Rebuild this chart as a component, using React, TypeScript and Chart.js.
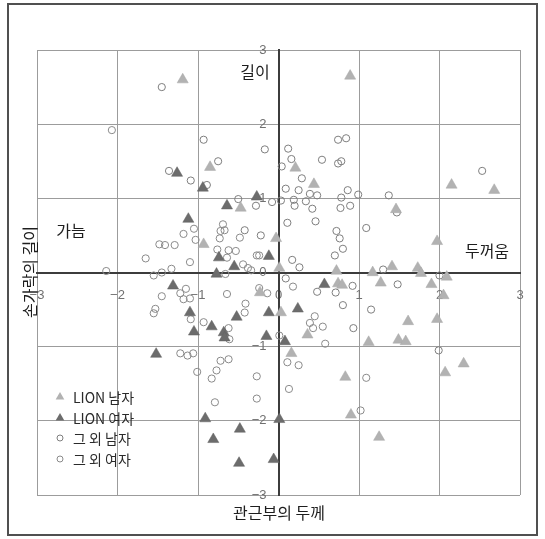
import React, { useEffect, useRef } from 'react';
import { Chart, registerables } from 'chart.js';

Chart.register(...registerables);

// ---- data (x: 관근부의 두께, y: 손가락의 길이) ----
const lionMale: [number, number][] = [
  [-1.19, 2.6], [0.89, 2.65], [-0.85, 1.42], [0.21, 1.41], [0.44, 1.19], [2.15, 1.18], [2.68, 1.11],
  [1.46, 0.85], [-0.47, 0.87], [-0.93, 0.38], [-0.03, 0.46], [1.97, 0.42], [0.01, 0.06], [0.72, 0.02],
  [1.17, 0.0], [1.41, 0.08], [1.73, 0.06], [1.77, -0.01], [2.09, -0.06], [1.27, -0.14], [1.9, -0.16],
  [0.74, -0.15], [0.79, -0.17], [2.05, -0.31], [0.03, -0.54], [1.61, -0.66], [1.97, -0.63], [0.36, -0.84],
  [1.12, -0.94], [1.49, -0.91], [1.58, -0.93], [0.16, -1.09], [0.83, -1.41], [2.3, -1.23], [2.07, -1.35],
  [0.9, -1.92], [1.25, -2.22], [-0.23, -0.27],
];

const lionFemale: [number, number][] = [
  [-1.26, 1.34], [-0.94, 1.14], [-0.27, 1.02], [-0.64, 0.9], [-1.12, 0.72], [-0.74, 0.2], [-0.55, 0.08],
  [-0.12, 0.22], [-0.77, -0.02], [-1.31, -0.18], [-1.1, -0.54], [-1.05, -0.8], [-0.83, -0.73], [-0.68, -0.81],
  [-0.67, -0.88], [-0.52, -0.6], [-0.12, -0.54], [0.24, -0.49], [-0.15, -0.86], [0.08, -0.93], [0.57, -0.16],
  [-1.52, -1.1], [-0.91, -1.97], [-0.48, -2.11], [-0.81, -2.25], [-0.49, -2.57], [-0.06, -2.52], [0.01, -1.98],
];

const otherMale: [number, number][] = [
  [-1.45, 2.5], [-0.93, 1.79], [-0.17, 1.66], [0.12, 1.67], [0.16, 1.53], [0.74, 1.79], [0.84, 1.81],
  [0.54, 1.52], [0.74, 1.47], [0.78, 1.5], [-0.75, 1.5], [-1.36, 1.37], [-1.09, 1.24], [-0.89, 1.18],
  [0.04, 1.43], [0.29, 1.27], [0.09, 1.13], [0.25, 1.11], [0.39, 1.06], [0.48, 1.04], [0.86, 1.11],
  [0.99, 1.05], [1.37, 1.04], [0.78, 1.01], [0.19, 0.98], [0.03, 0.97], [-0.08, 0.95], [0.34, 0.96],
  [0.2, 0.9], [0.42, 0.86], [0.77, 0.87], [0.89, 0.9], [1.47, 0.81], [-0.5, 0.99], [-0.28, 0.9],
  [2.53, 1.37], [0.11, 0.67], [0.46, 0.69], [0.72, 0.56], [0.76, 0.46], [0.8, 0.32], [0.7, 0.23],
  [1.09, 0.6], [0.17, 0.17], [0.26, 0.07], [1.3, 0.04], [2.0, -0.04], [0.09, -0.08], [0.48, -0.26],
  [0.71, -0.27], [0.92, -0.18], [1.48, -0.16], [0.8, -0.44], [1.15, -0.5], [0.93, -0.75], [1.99, -1.05],
  [-0.42, 0.57], [-0.22, 0.5],
];

const otherFemale: [number, number][] = [
  [-2.07, 1.92], [0.18, -0.19], [0.45, -0.59], [0.39, -0.68], [0.43, -0.75], [0.55, -0.73], [0.58, -0.96],
  [0.01, -0.85], [0.11, -1.21], [0.25, -1.25], [1.09, -1.42], [0.13, -1.57], [1.02, -1.86], [-0.27, -1.4],
  [-0.27, -1.7], [-0.79, -1.75], [-0.83, -1.43], [-0.77, -1.32], [-0.72, -1.19], [-0.62, -1.17], [-1.01, -1.34],
  [-1.22, -1.09], [-1.13, -1.12], [-1.06, -1.09], [-0.42, -0.54], [-0.41, -0.42], [-0.64, -0.29], [-0.24, -0.21],
  [-0.14, -0.28], [-1.15, -0.22], [-1.22, -0.28], [-1.18, -0.36], [-1.1, -0.35], [-1.45, -0.32], [-1.53, -0.49],
  [-1.55, -0.55], [-1.09, -0.63], [-0.93, -0.67], [-0.61, -0.9], [-0.62, -0.75], [-2.14, 0.02], [-1.55, -0.04],
  [-1.45, 0.0], [-1.33, 0.05], [-1.65, 0.19], [-1.1, 0.14], [-1.48, 0.38], [-1.41, 0.37], [-1.29, 0.37],
  [-1.18, 0.52], [-1.05, 0.59], [-1.03, 0.44], [-0.69, 0.65], [-0.72, 0.56], [-0.67, 0.57], [-0.73, 0.46],
  [-0.48, 0.47], [-0.76, 0.31], [-0.62, 0.3], [-0.53, 0.29], [-0.27, 0.23], [-0.24, 0.23], [-0.44, 0.11],
  [-0.38, 0.06], [-0.64, 0.2], [-0.66, -0.02], [-0.34, 0.03],
];

const seriesLabels = ['LION 남자', 'LION 여자', '그 외 남자', '그 외 여자'];
const axisMin = -3;
const axisMax = 3;
const xTitle = '관근부의 두께';
const yTitle = '손가락의 길이';
const cornerLabels = { top: '길이', left: '가늠', right: '두꺼움' };

const KFONT = "'Noto Sans CJK KR', 'Noto Sans', sans-serif";
const TICKFONT = "'Liberation Sans Narrow', 'Liberation Sans', sans-serif";

const toPts = (arr: [number, number][]) => arr.map(([x, y]) => ({ x, y }));

const overlayPlugin = {
  id: 'overlayTexts',
  afterDraw(chart: any) {
    const ctx = chart.ctx as CanvasRenderingContext2D;
    ctx.save();
    ctx.fillStyle = '#1e1e1e';
    ctx.font = `16px ${KFONT}`;
    ctx.textAlign = 'center';
    ctx.textBaseline = 'middle';
    ctx.fillText(cornerLabels.top, 255, 72);
    ctx.fillText(cornerLabels.left, 71, 231);
    ctx.fillText(cornerLabels.right, 487, 251);
    ctx.fillText(xTitle, 279, 513);
    ctx.save();
    ctx.translate(29.5, 272);
    ctx.rotate(-Math.PI / 2);
    ctx.fillText(yTitle, 0, 0);
    ctx.restore();

    // legend
    const rows = [397, 418, 438, 459];
    chart.data.datasets.forEach((ds: any, i: number) => {
      const cx = 60;
      const cy = rows[i];
      ctx.beginPath();
      if (ds.pointStyle === 'triangle') {
        const r = 5;
        ctx.moveTo(cx, cy - r);
        ctx.lineTo(cx + r * 0.866, cy + r * 0.5);
        ctx.lineTo(cx - r * 0.866, cy + r * 0.5);
        ctx.closePath();
        ctx.fillStyle = ds.backgroundColor;
        ctx.fill();
      } else {
        ctx.arc(cx, cy, 3, 0, Math.PI * 2);
        ctx.strokeStyle = ds.borderColor;
        ctx.lineWidth = 1;
        ctx.stroke();
      }
      ctx.fillStyle = '#2a2a2a';
      ctx.font = `14px ${KFONT}`;
      ctx.textAlign = 'left';
      ctx.textBaseline = 'middle';
      ctx.fillText(ds.label, 73, cy + 1);
    });
    ctx.restore();
  },
};

export default function App() {
  const ref = useRef<HTMLCanvasElement | null>(null);

  useEffect(() => {
    if (!ref.current) return;
    const fmt = (v: any) => {
      const n = Number(v);
      return n < 0 ? '\u2212' + Math.abs(n) : String(n);
    };
    const chart = new Chart(ref.current, {
      type: 'scatter',
      data: {
        datasets: [
          {
            label: seriesLabels[0],
            data: toPts(lionMale),
            pointStyle: 'triangle',
            pointRadius: 6.4,
            backgroundColor: '#b2b2b2',
            borderColor: '#a8a8a8',
            borderWidth: 0.5,
          },
          {
            label: seriesLabels[1],
            data: toPts(lionFemale),
            pointStyle: 'triangle',
            pointRadius: 6.4,
            backgroundColor: '#6c6c6c',
            borderColor: '#606060',
            borderWidth: 0.5,
          },
          {
            label: seriesLabels[2],
            data: toPts(otherMale),
            pointStyle: 'circle',
            pointRadius: 3.6,
            backgroundColor: 'rgba(0,0,0,0)',
            borderColor: '#7e7e7e',
            borderWidth: 1,
          },
          {
            label: seriesLabels[3],
            data: toPts(otherFemale),
            pointStyle: 'circle',
            pointRadius: 3.6,
            backgroundColor: 'rgba(0,0,0,0)',
            borderColor: '#8a8a8a',
            borderWidth: 1,
          },
        ],
      },
      options: {
        animation: false,
        responsive: false,
        devicePixelRatio: 1,
        layout: { padding: { left: 37, right: 25, top: 50, bottom: 44 } },
        plugins: { legend: { display: false }, tooltip: { enabled: false } },
        scales: {
          x: {
            type: 'linear',
            min: axisMin,
            max: axisMax,
            position: { y: 0 } as any,
            grid: { color: '#9c9c9c', lineWidth: 1, drawTicks: false },
            border: { display: true, color: '#3c3c3c', width: 2 },
            ticks: {
              stepSize: 1,
              padding: 15,
              color: '#707070',
              font: { family: TICKFONT, size: 13 },
              callback: fmt,
            },
          },
          y: {
            type: 'linear',
            min: axisMin,
            max: axisMax,
            position: 'center',
            grid: { color: '#9c9c9c', lineWidth: 1, drawTicks: false },
            border: { display: true, color: '#3c3c3c', width: 2 },
            ticks: {
              stepSize: 1,
              padding: 12,
              color: '#707070',
              font: { family: TICKFONT, size: 13 },
              callback: fmt,
            },
          },
        },
      },
      plugins: [overlayPlugin],
    });
    return () => chart.destroy();
  }, []);

  return (
    <div style={{ position: 'absolute', left: 0, top: 0, width: 545, height: 539, background: '#fff' }}>
      <div
        style={{
          position: 'absolute',
          left: 7,
          top: 3,
          width: 531,
          height: 533,
          border: '2px solid #505050',
          boxSizing: 'border-box',
        }}
      />
      <canvas
        ref={ref}
        width={545}
        height={539}
        style={{ position: 'absolute', left: 0, top: 0, width: 545, height: 539 }}
      />
    </div>
  );
}
